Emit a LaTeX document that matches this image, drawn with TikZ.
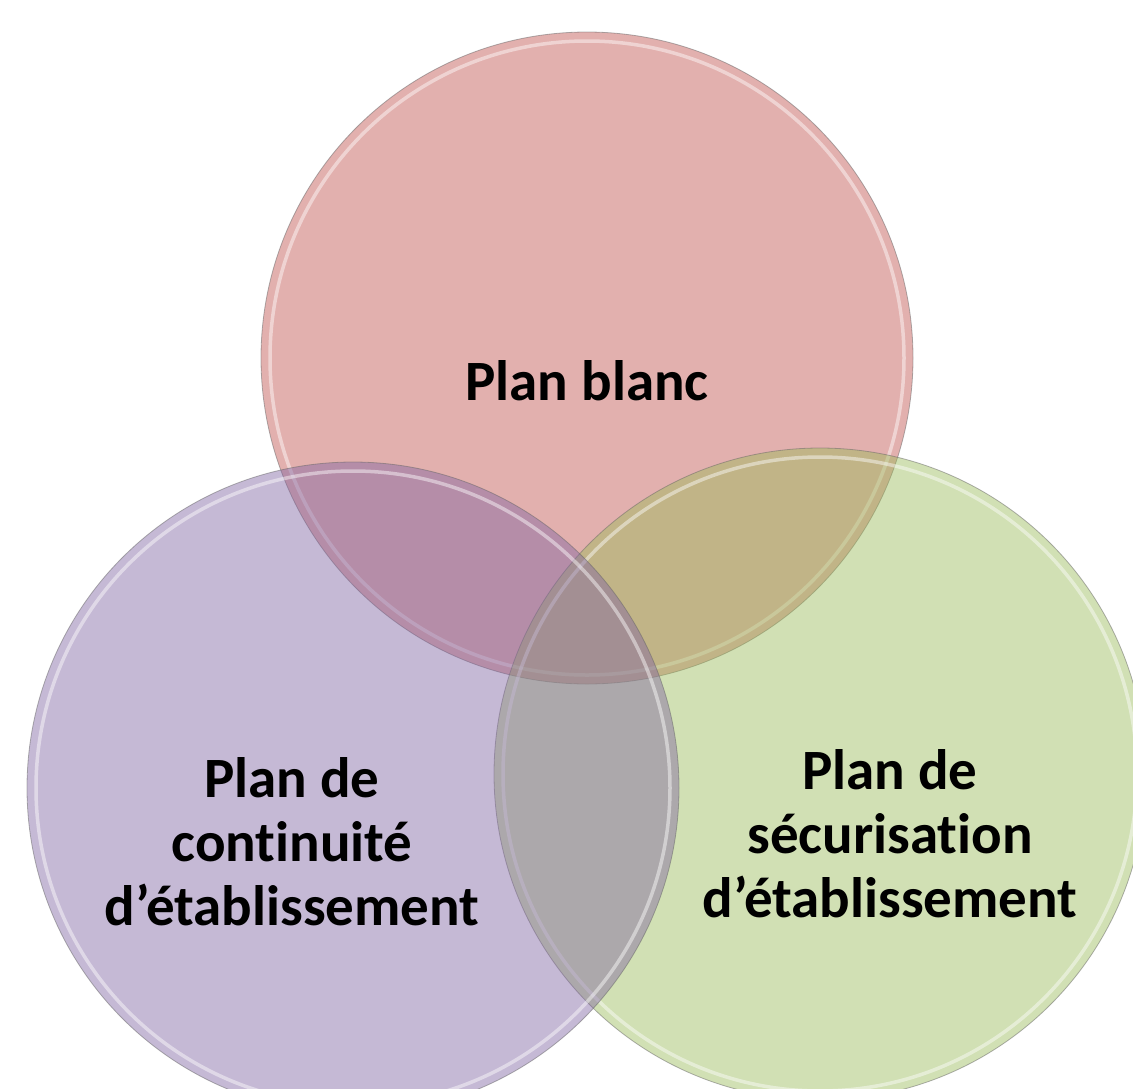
\documentclass[tikz,border=0pt]{standalone}
\usepackage{fontspec}
\setmainfont{Carlito}[Ligatures=CommonOff]
\definecolor{cred}{HTML}{C0504D}
\definecolor{cpurple}{HTML}{8064A2}
\definecolor{cgreen}{HTML}{9BBB59}
\begin{document}
\begin{tikzpicture}[x=1pt,y=-1pt,
  venn/.style={circle, minimum size=652pt, inner sep=0pt, fill=#1, fill opacity=0.45,
     draw=black!60, draw opacity=0.5, line width=0.8pt},
  rim/.style={draw=white, draw opacity=0.45, line width=3.5pt},
  lbl/.style={align=center, font=\bfseries\fontsize{57}{64}\selectfont, text=black}]
\useasboundingbox (0,0) rectangle (1133,1088);
\clip (0,0) rectangle (1133,1088);
\fill[white] (0,0) rectangle (1133,1088);
\node[venn=cred] (top) at (587,358) {};
\draw[rim] (top.center) circle (317);
\node[venn=cgreen] (right) at (820,774) {};
\draw[rim] (right.center) circle (317);
\node[venn=cpurple] (left) at (353,788) {};
\draw[rim] (left.center) circle (317);
\node[lbl] (t1) at (587,381) {Plan blanc};
\node[lbl] (t2) at (292,842) {Plan de\\continuité\\d’établissement};
\node[lbl] (t3) at (890,834) {Plan de\\sécurisation\\d’établissement};
\end{tikzpicture}
\end{document}
